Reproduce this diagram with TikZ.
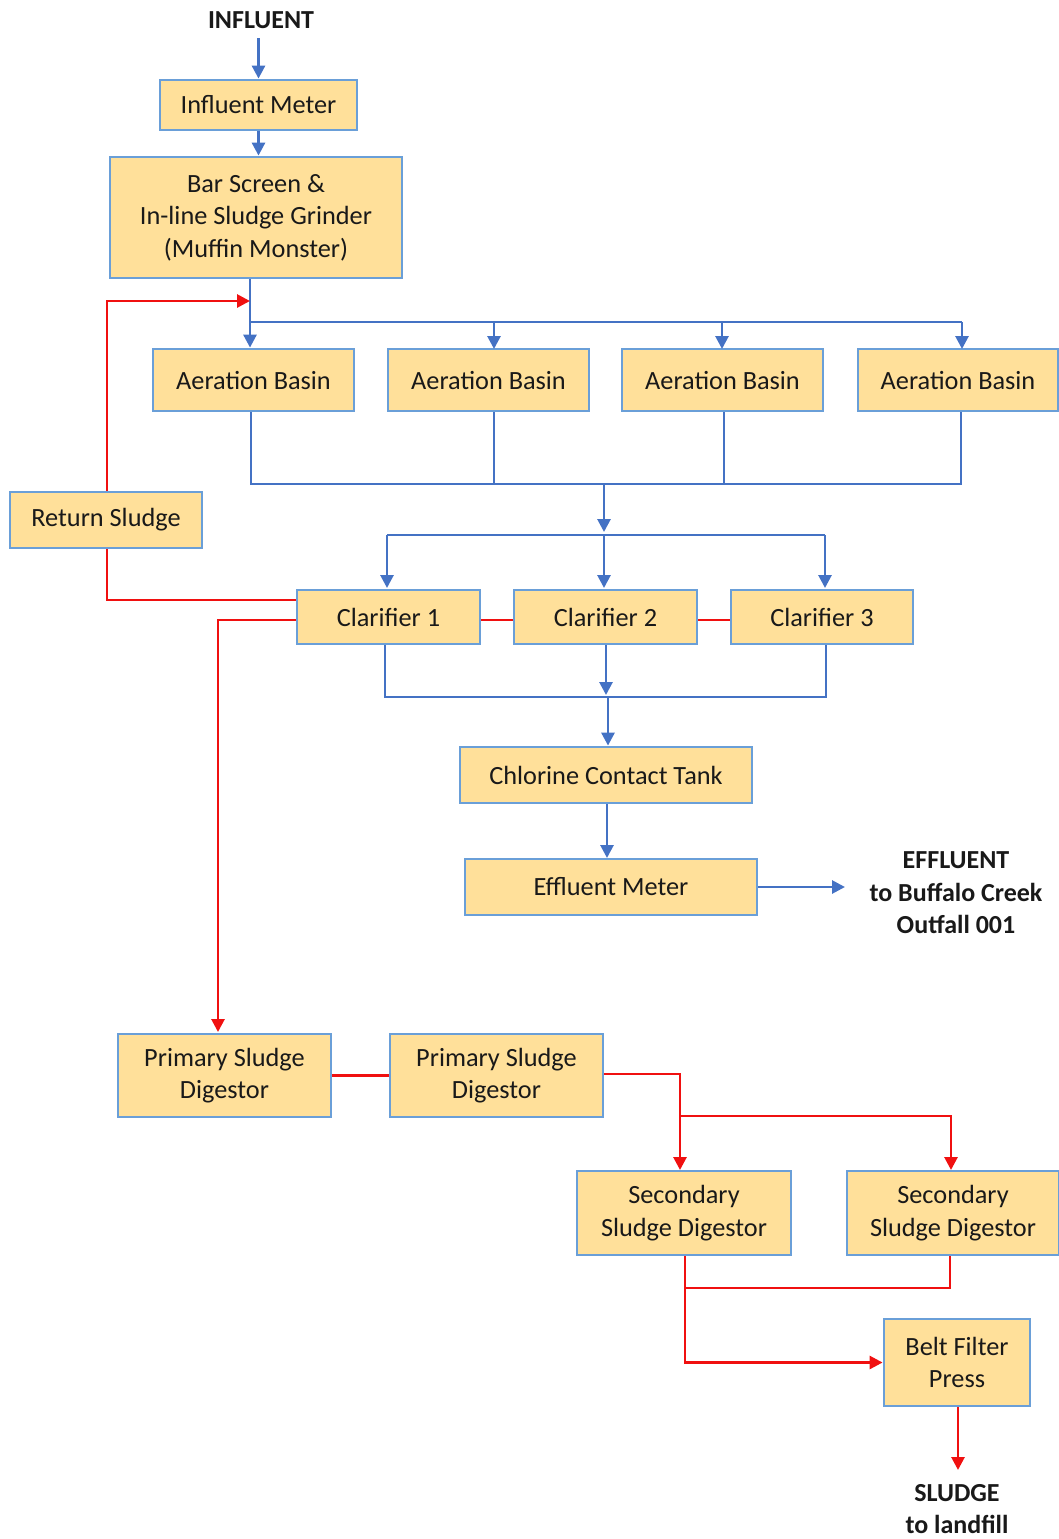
\documentclass[tikz,border=0pt]{standalone}
\usepackage{fontspec}
\setmainfont{Carlito}
\usetikzlibrary{arrows.meta}
\definecolor{boxfill}{HTML}{FFE09A}
\definecolor{boxline}{HTML}{6A9FD8}
\definecolor{flowblue}{HTML}{4472C4}
\definecolor{flowred}{HTML}{F01010}
\begin{document}
\begin{tikzpicture}[x=1pt,y=-1pt,
  box/.style={draw=boxline,fill=boxfill,line width=2.8pt,inner sep=0pt,align=center,
    font=\fontsize{26.3}{32.5}\selectfont,text=black!90},
  lbl/.style={inner sep=0pt,align=center,font=\fontsize{26}{32.5}\selectfont\bfseries,text=black!90},
  bline/.style={draw=flowblue,line width=2.8pt},
  barrow/.style={bline,-{Triangle[length=13pt,width=13pt]}},
  rline/.style={draw=flowred,line width=2.8pt},
  rarrow/.style={rline,-{Triangle[length=13pt,width=13pt]}}]
\useasboundingbox (0,0) rectangle (1059,1539);

% nodes
\node[lbl] (infl) at (261,20) {INFLUENT};
\node[box,minimum width=197,minimum height=50] (im) at (258.5,105) {Influent Meter};
\node[box,minimum width=292,minimum height=121] (bs) at (256,217.5) {Bar Screen \&\\In-line Sludge Grinder\\(Muffin Monster)};
\node[box,minimum width=201,minimum height=62] (ab1) at (253.5,380) {Aeration Basin};
\node[box,minimum width=201,minimum height=62] (ab2) at (488.5,380) {Aeration Basin};
\node[box,minimum width=201,minimum height=62] (ab3) at (722.5,380) {Aeration Basin};
\node[box,minimum width=200,minimum height=62] (ab4) at (958,380) {Aeration Basin};
\node[box,minimum width=192,minimum height=56] (rs) at (106,520) {Return Sludge};
\node[box,minimum width=183,minimum height=54] (c1) at (388.5,617) {Clarifier 1};
\node[box,minimum width=183,minimum height=54] (c2) at (605.5,617) {Clarifier 2};
\node[box,minimum width=182,minimum height=54] (c3) at (822,617) {Clarifier 3};
\node[box,minimum width=292,minimum height=56] (cct) at (606,775) {Chlorine Contact Tank};
\node[box,minimum width=292,minimum height=56] (em) at (611,887) {Effluent Meter};
\node[lbl] (eff) at (956,893) {EFFLUENT\\to Buffalo Creek\\Outfall 001};
\node[box,minimum width=213,minimum height=83] (p1) at (224.5,1075.5) {Primary Sludge\\Digestor};
\node[box,minimum width=213,minimum height=83] (p2) at (496.5,1075.5) {Primary Sludge\\Digestor};
\node[box,minimum width=214,minimum height=84] (s1) at (684,1213) {Secondary\\Sludge Digestor};
\node[box,minimum width=212,minimum height=84] (s2) at (953,1213) {Secondary\\Sludge Digestor};
\node[box,minimum width=146,minimum height=87] (bf) at (957,1362.5) {Belt Filter\\Press};
\node[lbl] (sl) at (957,1509) {SLUDGE\\to landfill};

% junction coordinates
\coordinate (rj) at (250,301);
\coordinate (bus) at (250,322);
\coordinate (abus) at (604,484);
\coordinate (cbus) at (604,535);
\coordinate (clbus) at (608,697);
\coordinate (eo) at (845,887);
\coordinate (pj) at (680,1116);
\coordinate (sj) at (685,1288);
\coordinate (sout) at (958,1470);

% blue flow
\draw[barrow] (im.north |- 0,38) -- (im.north);
\draw[barrow] (im.south) -- (im.south |- bs.north);
\draw[barrow] (bs.south -| bus) -- (bus |- ab1.north);
\draw[bline] (bus) -- (962,322);
\draw[barrow] (494,322) -- (494,349);
\draw[barrow] (722,322) -- (722,349);
\draw[barrow] (962,322) -- (962,349);
\draw[bline] (ab1.south -| 251,0) |- (abus);
\draw[bline] (ab4.south -| 961,0) |- (abus);
\draw[bline] (ab2.south -| 494,0) -- (494,484);
\draw[bline] (ab3.south -| 724,0) -- (724,484);
\draw[barrow] (abus) -- (604,532);
\draw[bline] (387,535) -- (825,535);
\draw[barrow] (387,535) -- (387,588);
\draw[barrow] (cbus) -- (604,588);
\draw[barrow] (825,535) -- (825,588);
\draw[bline] (c1.south -| 385,0) |- (clbus);
\draw[bline] (c3.south -| 826,0) |- (clbus);
\draw[barrow] (c2.south -| 606,0) -- (606,695);
\draw[barrow] (clbus) -- (clbus |- cct.north);
\draw[barrow] (cct.south -| 607,0) -- (607,858);
\draw[barrow] (em.east) -- (eo);

% red flow
\draw[rarrow] (rs.north -| 107,0) |- (rj);
\draw[rline] (c1.west |- 0,600) -| (rs.south -| 107,0);
\draw[rarrow] (c1.west |- 0,620) -| (218,1032);
\draw[rline] (c1.east |- 0,620) -- (c2.west |- 0,620);
\draw[rline] (c2.east |- 0,620) -- (c3.west |- 0,620);
\draw[rline] (p1.east) -- (p2.west);
\draw[rarrow] (p2.east |- 0,1074) -| (680,1170);
\draw[rarrow] (pj) -| (951,1170);
\draw[rarrow] (s1.south -| sj) |- (bf.west);
\draw[rline] (s2.south -| 950,0) |- (sj);
\draw[rarrow] (bf.south -| sout) -- (sout);
\end{tikzpicture}
\end{document}
